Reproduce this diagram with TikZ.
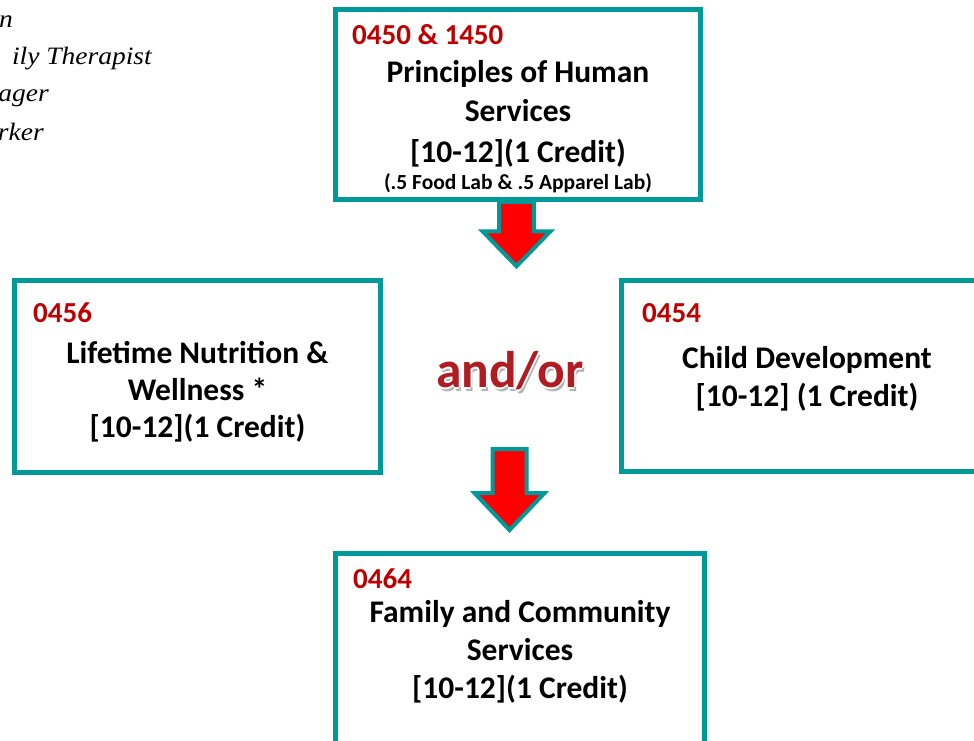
\documentclass[tikz,border=0pt]{standalone}
\usepackage{fontspec}
\setmainfont{Carlito}
\newfontfamily\garafont[FakeStretch=1.1]{Liberation Serif}
\definecolor{tealc}{RGB}{0,153,153}
\definecolor{codec}{RGB}{192,0,0}
\definecolor{andorc}{RGB}{176,28,34}
\begin{document}
\begin{tikzpicture}[x=1pt,y=-1pt,
  box/.style={draw=tealc, line width=4.5pt, fill=white, rectangle, inner sep=0pt},
  codetxt/.style={text=codec, font=\fontsize{29}{32}\selectfont\bfseries, anchor=base west, inner sep=0pt},
  body/.style={font=\fontsize{31.5}{36}\selectfont\bfseries, anchor=base, inner sep=0pt},
  small/.style={font=\fontsize{21.5}{24}\selectfont\bfseries, anchor=base, inner sep=0pt},
  arr/.style={draw=tealc, fill=red, line width=4pt, line join=miter},
  side/.style={font=\garafont\itshape\fontsize{25}{30}\selectfont, anchor=base east, inner sep=0pt},
  andor/.style={font=\fontsize{51.5}{54}\selectfont\bfseries, anchor=base, inner sep=0pt}]
\useasboundingbox (0,0) rectangle (974,741);
\clip (0,0) rectangle (974,741);
\fill[white] (0,0) rectangle (974,741);

% side text (cut off at left)
\node[side] (s1) at (13,28) {n};
\node[side] (s2) at (152,65) {ily Therapist};
\node[side] (s3) at (49,102) {ager};
\node[side] (s4) at (44,140) {rker};

% boxes
\node[box, minimum width=365pt, minimum height=190pt] (top) at (518,104.5) {};
\node[box, minimum width=366pt, minimum height=192pt] (left) at (197.5,376.5) {};
\node[box, minimum width=376pt, minimum height=191pt] (right) at (809.5,376) {};
\node[box, minimum width=369pt, minimum height=192pt] (bottom) at (520,649.5) {};

% top box text
\node[codetxt] (c1) at (352,45) {0450 \& 1450};
\node[body] (t1) at (518,83) {Principles of Human};
\node[body] (t2) at (518,122) {Services};
\node[body] (t3) at (518,162) {[10-12](1 Credit)};
\node[small] (t4) at (518,189) {(.5 Food Lab \& .5 Apparel Lab)};

% left box text
\node[codetxt] (c2) at (33,322) {0456};
\node[body] (l1) at (197.5,363) {Lifetime Nutrition \&};
\node[body] (l2) at (197.5,400) {Wellness *};
\node[body] (l3) at (197.5,437) {[10-12](1 Credit)};

% right box text
\node[codetxt] (c3) at (642,322) {0454};
\node[body] (r1) at (807,368) {Child Development};
\node[body] (r2) at (807,406) {[10-12] (1 Credit)};

% bottom box text
\node[codetxt] (c4) at (353,588) {0464};
\node[body] (b1) at (520,622) {Family and Community};
\node[body] (b2) at (520,660) {Services};
\node[body] (b3) at (520,698) {[10-12](1 Credit)};

% block arrows
\draw[arr] (top.south) ++(-19,0) -- ++(0,29.5) -- ++(-16.5,0) -- ++(34,35)
  -- ++(34,-35) -- ++(-16.5,0) -- ++(0,-29.5) -- cycle;
\coordinate (a2) at (509.5,449);
\draw[arr] (a2) ++(-17,0) -- ++(0,44) -- ++(-18,0) -- ++(35,37)
  -- ++(35,-37) -- ++(-18,0) -- ++(0,-44) -- cycle;

% and/or with shadow and glow
\node[andor, text=black, opacity=0.3] (shadow) at (512,391) {and/or};
\foreach \dx/\dy [count=\i] in {2/0,-2/0,0/2,0/-2}
  \node[andor, text=white] (gl\i) at (510+\dx,387+\dy) {and/or};
\node[andor, text=andorc] (andor) at (510,387) {and/or};
\end{tikzpicture}
\end{document}
